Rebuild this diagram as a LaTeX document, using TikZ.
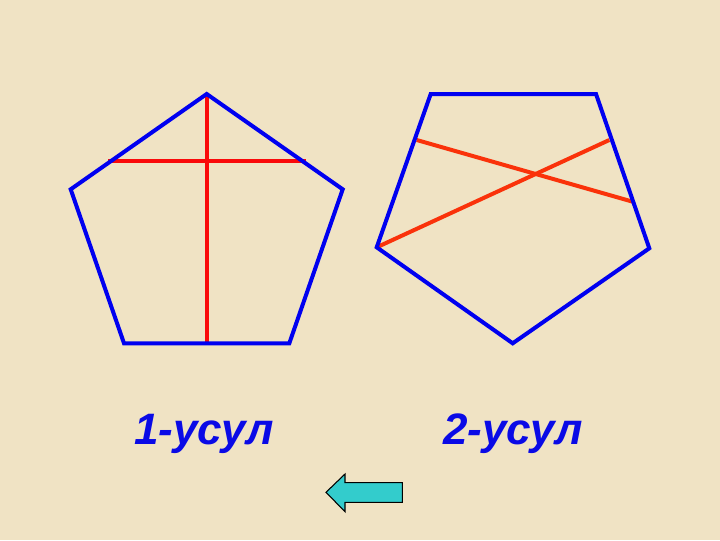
\documentclass[tikz,border=0pt]{standalone}
\usepackage{fontspec}
\setmainfont{Liberation Sans}
\definecolor{bg}{RGB}{240,227,196}
\definecolor{pblue}{RGB}{0,0,240}
\definecolor{pred}{RGB}{250,10,10}
\definecolor{pred2}{RGB}{250,50,10}
\definecolor{tblue}{RGB}{10,10,230}
\definecolor{arrowfill}{RGB}{51,204,204}
\begin{document}
\begin{tikzpicture}[x=0.75pt,y=-0.75pt,
  edge/.style={draw=pblue,line width=3pt,line join=miter},
  cut/.style={draw=pred,line width=3pt},
  cutb/.style={draw=pred2,line width=3pt},
  label/.style={text=tblue,font=\fontsize{33pt}{36pt}\selectfont\bfseries\itshape,anchor=base,inner sep=0pt}]
\fill[bg] (0,0) rectangle (720,540);
\useasboundingbox (0,0) rectangle (720,540);
% pentagon 1
\coordinate (a1) at (206.7,94);
\coordinate (a2) at (342.7,189.3);
\coordinate (a3) at (289.3,343.3);
\coordinate (a4) at (124,343.3);
\coordinate (a5) at (70.7,189.3);
\coordinate (h1) at (108.3,161.3);
\coordinate (h2) at (305.7,161.3);
\coordinate (v2) at (206.7,343.3);
\draw[cut] (h1) -- (h2);
\draw[cut] (a1) -- (v2);
\draw[edge] (a1) -- (a2) -- (a3) -- (a4) -- (a5) -- cycle;
% pentagon 2
\coordinate (b1) at (430.7,94);
\coordinate (b2) at (596,94);
\coordinate (b3) at (649.3,248.3);
\coordinate (b4) at (512.7,343.3);
\coordinate (b5) at (376.7,247.3);
\coordinate (c1) at (609.3,140);
\coordinate (d1) at (416.7,140);
\coordinate (d2) at (632.7,201.7);
\draw[cutb] (b5) -- (c1);
\draw[cutb] (d1) -- (d2);
\draw[edge] (b1) -- (b2) -- (b3) -- (b4) -- (b5) -- cycle;
% labels
\node[label] (t1) at (204,444) {1-усул};
\node[label] (t2) at (513,444) {2-усул};
% back arrow
\draw[fill=arrowfill,draw=black,line width=0.8pt,line join=miter]
  (326,492.3) -- (345,474) -- (345,482.7) -- (402.3,482.7) -- (402.3,502.3)
  -- (345,502.3) -- (345,511.7) -- cycle;
\end{tikzpicture}
\end{document}
